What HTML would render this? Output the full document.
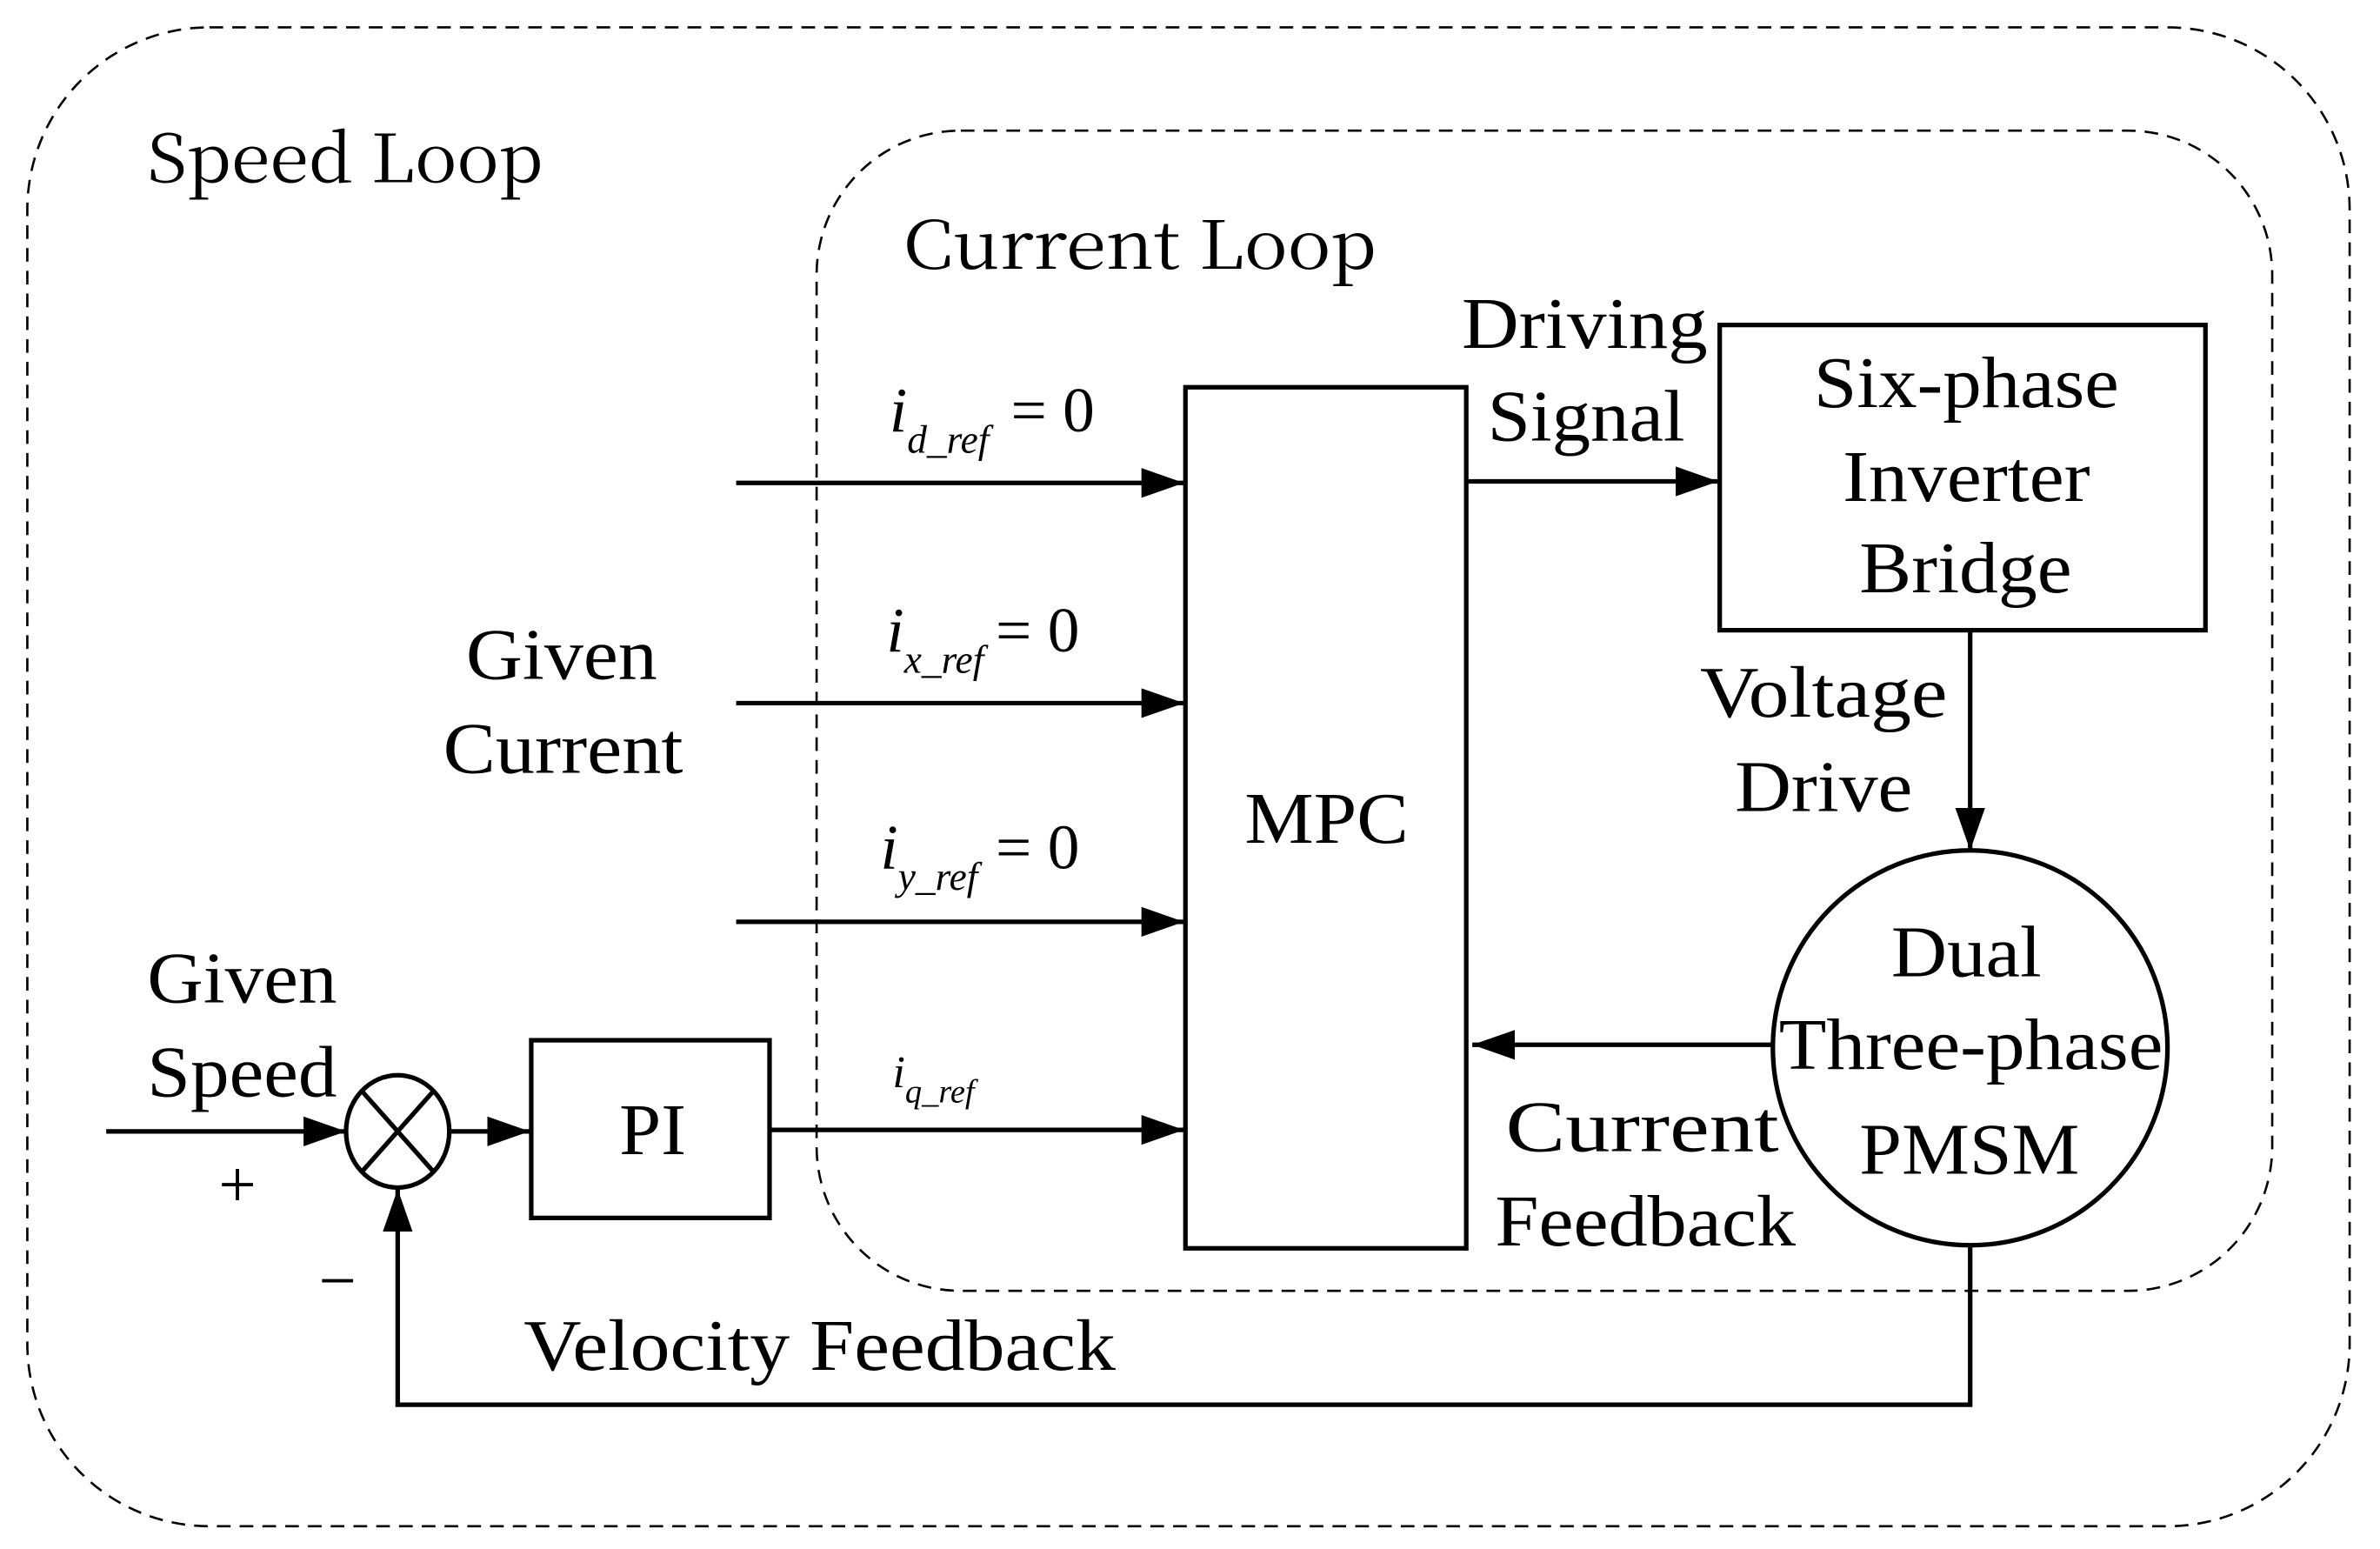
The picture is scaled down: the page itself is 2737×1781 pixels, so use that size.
<!DOCTYPE html>
<html><head><meta charset="utf-8"><style>html,body{margin:0;padding:0;background:#fff}svg{display:block}</style></head>
<body>
<svg width="2737" height="1781" viewBox="0 0 1568 1020" preserveAspectRatio="none" xmlns="http://www.w3.org/2000/svg">
<defs>
<marker id="b" viewBox="0 0 10 10" refX="10" refY="5" markerWidth="28" markerHeight="28" markerUnits="userSpaceOnUse" orient="auto"><path d="M0,1.5 L10,5 L0,8.5 Z" fill="#000"/></marker>
</defs>
<g fill="none" stroke="#000" stroke-width="1.5" stroke-dasharray="9,6">
<rect x="18" y="18" width="1530" height="987" rx="120" ry="120"/>
<rect x="538" y="86" width="959" height="764" rx="95" ry="95"/>
</g>
<g fill="#000" font-family="'Noto Serif CJK SC',serif" font-size="44">
<text x="97" y="120" textLength="261" lengthAdjust="spacingAndGlyphs">Speed Loop</text>
<text x="595" y="177" textLength="312" lengthAdjust="spacingAndGlyphs">Current Loop</text>
</g>
<g fill="none" stroke="#000" stroke-width="3">
<rect x="781" y="255" width="185" height="567"/>
<rect x="1133" y="214" width="320" height="201"/>
<circle cx="1298" cy="690" r="130"/>
<rect x="350" y="685" width="157" height="117"/>
<ellipse cx="262" cy="745" rx="34" ry="37"/>
<line x1="238" y1="718" x2="286" y2="772"/>
<line x1="286" y1="718" x2="238" y2="772"/>
</g>
<g stroke="#000" stroke-width="3" fill="none">
<line x1="485" y1="318" x2="780" y2="318" marker-end="url(#b)"/>
<line x1="485" y1="463" x2="780" y2="463" marker-end="url(#b)"/>
<line x1="485" y1="607" x2="780" y2="607" marker-end="url(#b)"/>
<line x1="507" y1="744" x2="780" y2="744" marker-end="url(#b)"/>
<line x1="966" y1="317" x2="1132" y2="317" marker-end="url(#b)"/>
<line x1="1298" y1="415" x2="1298" y2="560" marker-end="url(#b)"/>
<line x1="1168" y1="688" x2="970" y2="688" marker-end="url(#b)"/>
<line x1="70" y1="745" x2="228" y2="745" marker-end="url(#b)"/>
<line x1="296" y1="745" x2="349" y2="745" marker-end="url(#b)"/>
<polyline points="1298,820 1298,925 262,925 262,783" marker-end="url(#b)"/>
</g>
<g font-family="'Liberation Serif',serif" fill="#000" font-size="48" lengthAdjust="spacingAndGlyphs">
<text x="820" y="555" textLength="108" lengthAdjust="spacingAndGlyphs">MPC</text>
<text x="1195" y="268" textLength="201" lengthAdjust="spacingAndGlyphs">Six-phase</text>
<text x="1214" y="330" textLength="163" lengthAdjust="spacingAndGlyphs">Inverter</text>
<text x="1225" y="390" textLength="140" lengthAdjust="spacingAndGlyphs">Bridge</text>
<text x="1246" y="643" textLength="99" lengthAdjust="spacingAndGlyphs">Dual</text>
<text x="1172" y="704" textLength="253" lengthAdjust="spacingAndGlyphs">Three-phase</text>
<text x="1225" y="773" textLength="145" lengthAdjust="spacingAndGlyphs">PMSM</text>
<text x="307" y="447" textLength="126" lengthAdjust="spacingAndGlyphs">Given</text>
<text x="292" y="509" textLength="158" lengthAdjust="spacingAndGlyphs">Current</text>
<text x="963" y="229" textLength="162" lengthAdjust="spacingAndGlyphs">Driving</text>
<text x="980" y="290" textLength="130" lengthAdjust="spacingAndGlyphs">Signal</text>
<text x="1120" y="472" textLength="163" lengthAdjust="spacingAndGlyphs">Voltage</text>
<text x="1143" y="534" textLength="117" lengthAdjust="spacingAndGlyphs">Drive</text>
<text x="992" y="758" textLength="180" lengthAdjust="spacingAndGlyphs">Current</text>
<text x="985" y="820" textLength="198" lengthAdjust="spacingAndGlyphs">Feedback</text>
<text x="97" y="660" textLength="125" lengthAdjust="spacingAndGlyphs">Given</text>
<text x="97" y="722" textLength="125" lengthAdjust="spacingAndGlyphs">Speed</text>
<text x="345" y="902" textLength="390" lengthAdjust="spacingAndGlyphs">Velocity Feedback</text>
<text x="408" y="760" textLength="44" lengthAdjust="spacingAndGlyphs">PI</text>
<text x="144" y="795" font-size="44">+</text>
<text x="210" y="858" font-size="44">−</text>
</g>
<g font-family="'Liberation Serif',serif" fill="#000" font-style="italic">
<text x="586" y="284" font-size="42">i<tspan font-size="26" dy="14">d_ref</tspan></text>
<text x="666" y="284" font-size="42" font-style="normal">= 0</text>
<text x="584" y="429" font-size="42">i<tspan font-size="26" dy="14">x_ref</tspan></text>
<text x="656" y="429" font-size="42" font-style="normal">= 0</text>
<text x="580" y="572" font-size="42">i<tspan font-size="26" dy="14">y_ref</tspan></text>
<text x="656" y="572" font-size="42" font-style="normal">= 0</text>
<text x="588" y="716" font-size="30">i<tspan font-size="22" dy="10">q_ref</tspan></text>
</g>
</svg>
</body></html>
